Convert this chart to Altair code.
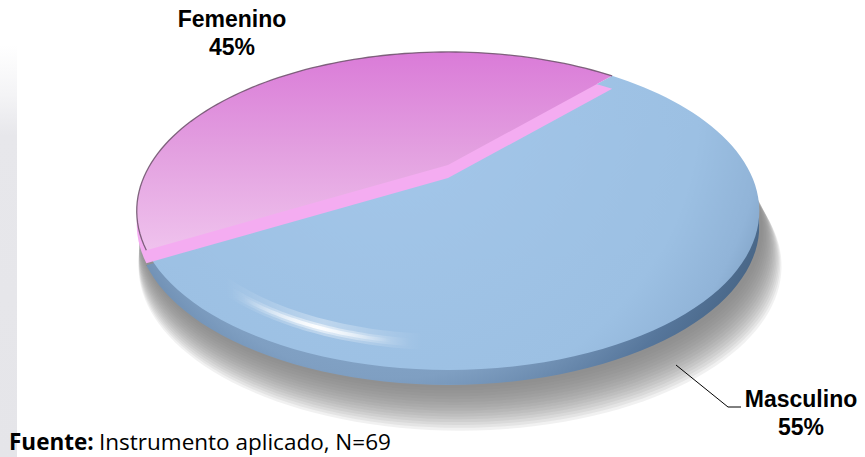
import altair as alt
import pandas as pd

# ---------------- data ----------------
categories = ["Masculino", "Femenino"]
values = [55, 45]
percent_labels = ["55%", "45%"]
source_bold = "Fuente:"
source_rest = "Instrumento aplicado, N=69"

# ---------------- geometry / style ----------------
W, H = 865, 457
CX, CY = 448.0, 165.0          # projected pie centre
RA, RB, K = 298.0, 145.7, 0.289  # perspective ellipse parameters
START = -48.0                  # start angle (deg) of first slice, clockwise
N = 90

df = pd.DataFrame({"category": categories, "value": values,
                   "pct": percent_labels, "rank": list(range(len(categories)))})
src = pd.DataFrame({"part": [source_bold, source_rest]})

xs = alt.Scale(domain=[0, W], nice=False, zero=False)
ys = alt.Scale(domain=[H, 0], nice=False, zero=False)


def proj(dx, dy, r=1.0):
    den = f"(1 - {K}*{r}*sin(datum.t))"
    px = f"{CX + dx} + {RA}*{r}*cos(datum.t)/{den}"
    py = f"{CY + dy} + {RB}*{r}*sin(datum.t)/{den}"
    return px, py


def enc(ch):
    return ch.encode(
        x=alt.X("px:Q", scale=xs, axis=None),
        y=alt.Y("py:Q", scale=ys, axis=None),
        order=alt.Order("step:Q"),
    )


def slice_chart(cat, dx=0.0, dy=0.0, arc_only=False):
    px, py = proj(dx, dy)
    c = (alt.Chart(df)
         .transform_joinaggregate(total="sum(value)")
         .transform_window(cum="sum(value)", sort=[alt.SortField("rank")], frame=[None, 0])
         .transform_calculate(t0=f"{START} + 360*(datum.cum - datum.value)/datum.total",
                              t1=f"{START} + 360*datum.cum/datum.total",
                              steps=f"sequence(0, {N + 2})")
         .transform_flatten(["steps"], ["step"])
         .transform_calculate(
             t=f"(datum.t0 + (datum.t1 - datum.t0)*clamp(datum.step - 1, 0, {N - 1})/{N - 1})*PI/180")
         .transform_calculate(apex=f"datum.step == 0 || datum.step == {N + 1}")
         .transform_calculate(px=f"datum.apex ? {CX + dx} : {px}",
                              py=f"datum.apex ? {CY + dy} : {py}")
         .transform_filter(alt.datum.category == cat))
    if arc_only:
        c = c.transform_filter("!datum.apex")
    return c


def ring_chart(dx=0.0, dy=0.0, r=1.0, ta=0.0, tb=360.0, n=180):
    px, py = proj(dx, dy, r)
    return (alt.Chart(df)
            .transform_aggregate(total="sum(value)")
            .transform_calculate(steps=f"sequence(0, {n + 1})")
            .transform_flatten(["steps"], ["step"])
            .transform_calculate(t=f"({ta} + ({tb} - {ta})*datum.step/{n})*PI/180")
            .transform_calculate(px=px, py=py))


def lin(stops, x1=0, y1=0, x2=0, y2=1):
    return alt.Gradient(gradient="linear",
                        stops=[alt.GradientStop(color=c, offset=o) for o, c in stops],
                        x1=x1, y1=y1, x2=x2, y2=y2)


def rad(stops, cx, cy, r2):
    return alt.RadialGradient(gradient="radial",
                              stops=[alt.GradientStop(color=c, offset=o) for o, c in stops],
                              x1=cx, y1=cy, r1=0, x2=cx, y2=cy, r2=r2)


layers = []

# faint grey strip on the left edge (page background)
layers.append(
    alt.Chart(alt.Data(values=[{}])).mark_rect(
        fill=lin([(0, "#ffffff"), (0.12, "#f4f4f6"), (0.22, "#e7e7eb"), (1, "#e5e5e9")])
    ).encode(x=alt.value(0), x2=alt.value(17), y=alt.value(45), y2=alt.value(457))
)

# soft shadow: many faint offset copies of the disc
n_sh = 16
for i in range(n_sh):
    f = i / (n_sh - 1)
    layers.append(enc(ring_chart(dx=3 + 9 * f, dy=18 + 34 * f, r=1.0 + 0.03 * f).mark_line(
        fill="#7c7c7c", fillOpacity=0.11, strokeOpacity=0)))

# side wall of the blue slice
layers.append(enc(slice_chart("Masculino", dy=15).mark_line(
    fill=rad([(0, "#9cc0e3"), (0.55, "#7f9fc2"), (0.72, "#56769b"), (0.9, "#3d5976"),
              (1, "#344e69")], 0.4, 0.3, 0.78),
    strokeOpacity=0)))

# top of the blue slice
layers.append(enc(slice_chart("Masculino").mark_line(
    fill=rad([(0, "#a4c7ea"), (0.66, "#9cc0e3"), (0.8, "#91b4d8"),
              (0.92, "#7394b7"), (1, "#587795")], 0.4, 0.3, 0.76),
    strokeOpacity=0)))

# specular highlight on the front lip
hl = lin([(0, "rgba(255,255,255,0)"), (0.5, "rgba(255,255,255,0.95)"), (1, "rgba(255,255,255,0)")],
         x1=0, y1=0, x2=1, y2=0)
layers.append(enc(ring_chart(r=0.9, ta=94, tb=132, n=40).mark_line(
    stroke=hl, strokeWidth=16, strokeOpacity=0.35, strokeCap="round")))
layers.append(enc(ring_chart(r=0.905, ta=96, tb=130, n=40).mark_line(
    stroke=hl, strokeWidth=8, strokeOpacity=0.55, strokeCap="round")))
layers.append(enc(ring_chart(r=0.905, ta=99, tb=127, n=40).mark_line(
    stroke=hl, strokeWidth=3.5, strokeCap="round")))

# cut face of the pink slice
layers.append(enc(slice_chart("Femenino", dy=13).mark_line(
    fill="#f4acf1", strokeOpacity=0)))

# top of the pink slice
layers.append(enc(slice_chart("Femenino").mark_line(
    fill=lin([(0, "#da7bd8"), (0.5, "#e3a0e0"), (1, "#efc2ed")]),
    strokeOpacity=0)))

# dark outline on the pink rim
layers.append(enc(slice_chart("Femenino", arc_only=True).mark_line(
    stroke="#6b5068", strokeWidth=1.3, strokeOpacity=0.85)))

# leader line for Masculino
layers.append(alt.Chart(alt.Data(values=[{}])).mark_rule(color="#000000", strokeWidth=1).encode(
    x=alt.value(676), y=alt.value(365), x2=alt.value(728), y2=alt.value(407)))
layers.append(alt.Chart(alt.Data(values=[{}])).mark_rule(color="#000000", strokeWidth=1).encode(
    x=alt.value(728), y=alt.value(407), x2=alt.value(741), y2=alt.value(407)))

# slice labels
label_pos = {"Femenino": (232, 27), "Masculino": (801, 407)}
for cat, (lx, ly) in label_pos.items():
    layers.append(
        alt.Chart(df).transform_filter(alt.datum.category == cat)
        .transform_calculate(label="datum.category + '|' + datum.pct")
        .mark_text(font="Liberation Sans", fontWeight="bold", fontSize=23, lineBreak="|",
                   lineHeight=27.5, align="center", baseline="alphabetic", color="#000000")
        .encode(text="label:N", x=alt.value(lx), y=alt.value(ly))
    )

# source note
layers.append(
    alt.Chart(src).transform_filter(alt.datum.part == source_bold)
    .mark_text(font="Open Sans", fontWeight="bold", fontSize=22.5, align="left",
               baseline="alphabetic", color="#000000")
    .encode(text="part:N", x=alt.value(9), y=alt.value(450))
)
layers.append(
    alt.Chart(src).transform_filter(alt.datum.part == source_rest)
    .mark_text(font="Open Sans", fontSize=22.5, align="left", baseline="alphabetic", color="#000000")
    .encode(text="part:N", x=alt.value(99), y=alt.value(450))
)

chart = alt.layer(*layers).properties(
    width=W, height=H, padding=0,
    autosize=alt.AutoSizeParams(type="none"),
).configure_view(stroke="transparent")

chart.save("out.html", embed_options={"renderer": "svg", "actions": False})
